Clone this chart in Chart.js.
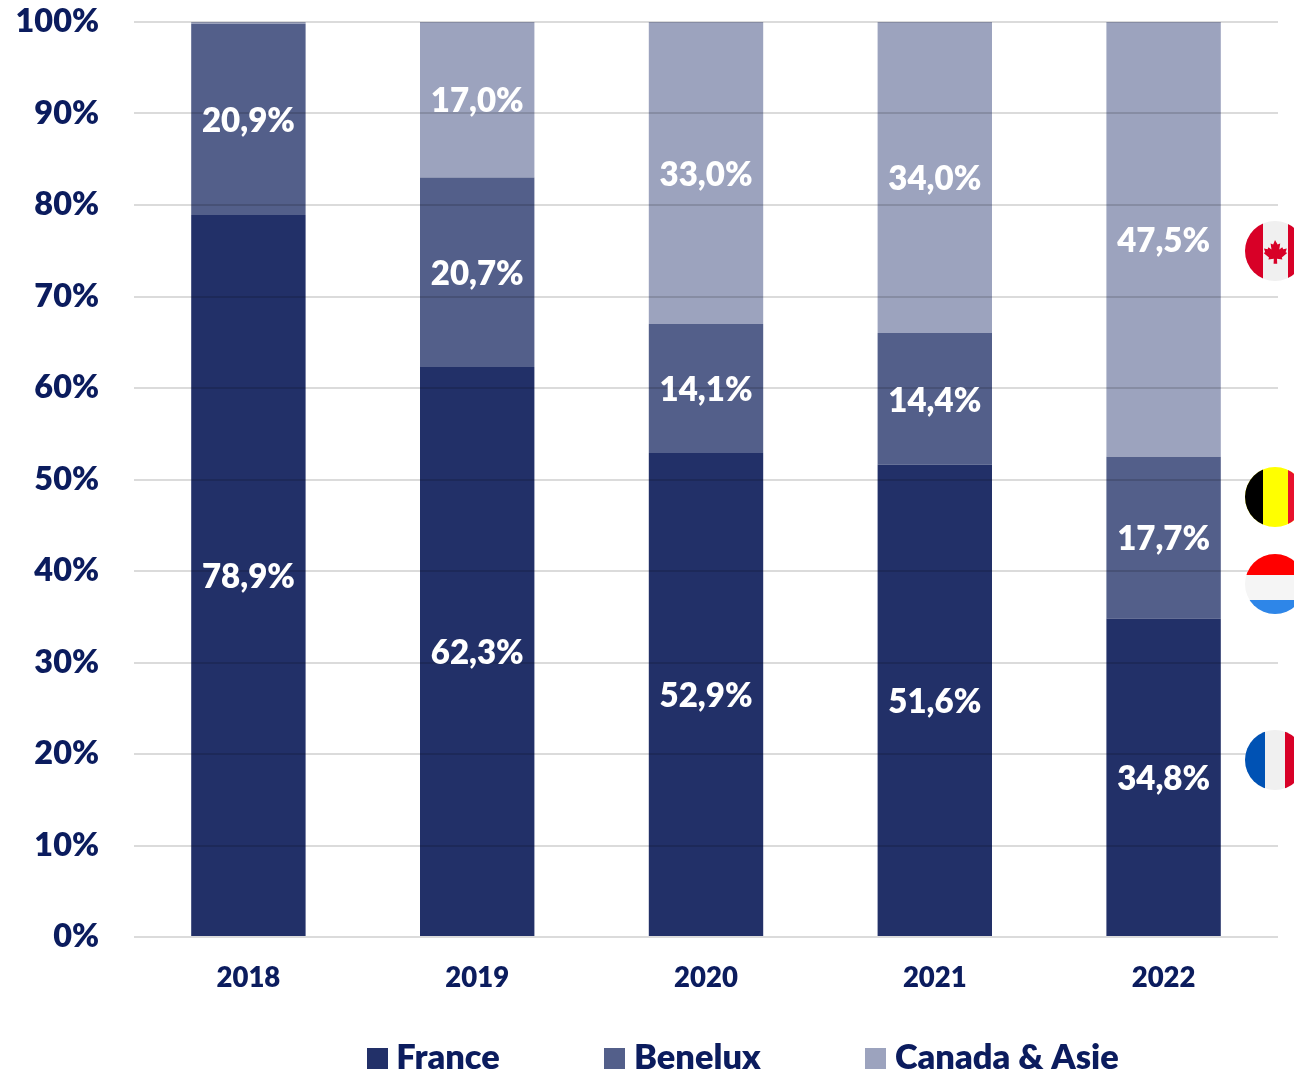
<!DOCTYPE html>
<html lang="fr"><head><meta charset="utf-8">
<style>
html,body{margin:0;padding:0;background:#fff;overflow:hidden;width:1294px;height:1073px}
#w{position:relative;width:1294px;height:1073px}
canvas{position:absolute;left:0;top:0}
svg.f{position:absolute;width:60px;height:60px;left:1245px}
</style>
<script src="https://cdn.jsdelivr.net/npm/chart.js@4"></script>
</head><body><div id="w"><canvas id="c" width="1294" height="1073"></canvas>
<svg class="f" style="top:221px" viewBox="0 0 60 60"><defs><clipPath id="k"><circle cx="30" cy="30" r="30"/></clipPath></defs><g clip-path="url(#k)"><rect width="60" height="60" fill="#f0f0f0"/><rect width="18" height="60" fill="#d80027"/><rect x="43" width="17" height="60" fill="#d80027"/><path d="M30 19l2.6 4.6 2.6-1.2-.9 6 3-2.2.9 2 3.6-.6-1.2 3.6 1.6.9-5.4 4.4.6 2-5.4-.8.2 5h-3.6l.2-5-5.4.8.6-2-5.4-4.4 1.6-.9-1.2-3.6 3.6.6.9-2 3 2.2-.9-6 2.6 1.2z" fill="#d80027"/></g></svg>
<svg class="f" style="top:467px" viewBox="0 0 60 60"><g clip-path="url(#k)"><rect width="60" height="60" fill="#ffff00"/><rect width="18" height="60" fill="#000"/><rect x="43" width="17" height="60" fill="#e8112d"/></g></svg>
<svg class="f" style="top:554px" viewBox="0 0 60 60"><g clip-path="url(#k)"><rect width="60" height="60" fill="#f5f5f5"/><rect width="60" height="21" fill="#ff0000"/><rect y="46" width="60" height="14" fill="#2e86e8"/></g></svg>
<svg class="f" style="top:730px" viewBox="0 0 60 60"><g clip-path="url(#k)"><rect width="60" height="60" fill="#f0f0f0"/><rect width="20" height="60" fill="#0052b4"/><rect x="40" width="20" height="60" fill="#d80027"/></g></svg>
</div>
<script>
const years = ['2018','2019','2020','2021','2022'];
const seriesNames = ['France','Benelux','Canada & Asie'];
const france = [78.9,62.3,52.9,51.6,34.8];
const benelux = [20.9,20.7,14.1,14.4,17.7];
const canadaAsie = [0.2,17.0,33.0,34.0,47.5];
const colors = ['#223068','#535f8a','#9ca3be'];
const navy = '#0b1c5e', fontFamily = 'Lato, Carlito, Calibri, sans-serif', W = '800';

function swatch(color){
  const s = document.createElement('canvas');
  s.width = 21; s.height = 21;
  const g = s.getContext('2d');
  g.fillStyle = color; g.fillRect(0,0,21,21);
  return s;
}
const swatches = colors.map(swatch);

const segmentLabels = {
  id:'segmentLabels',
  afterDraw(chart){
    const ctx = chart.ctx;
    ctx.save();
    ctx.font = W+' 33px '+fontFamily;
    ctx.fillStyle = '#fff';
    ctx.textAlign = 'center';
    ctx.textBaseline = 'middle';
    chart.data.datasets.forEach((ds,i)=>{
      chart.getDatasetMeta(i).data.forEach((bar,j)=>{
        if (ds.data[j] < 3) return;
        const p = bar.getProps(['x','y','base'],true);
        ctx.fillText(ds.data[j].toFixed(1).replace('.',',')+'%', p.x, (p.y+p.base)/2 + 2);
      });
    });
    ctx.restore();
  }
};
const legendPlace = {
  id:'legendPlace',
  beforeLayout(chart){
    const l = chart.legend;
    if (!l._wrapped){
      const fit = l.fit;
      l.fit = function(){ fit.call(this); this.height = 46; };
      l._wrapped = true;
    }
  },
  afterLayout(chart){
    const l = chart.legend;
    l.top = 928; l.bottom = 1073;
    l.left += 108; l.right += 108;
  }
};

new Chart(document.getElementById('c'),{
  type:'bar',
  data:{labels:years,datasets:[
    {label:seriesNames[0],data:france,backgroundColor:colors[0]},
    {label:seriesNames[1],data:benelux,backgroundColor:colors[1]},
    {label:seriesNames[2],data:canadaAsie,backgroundColor:colors[2]}
  ]},
  options:{
    responsive:false,animation:false,
    layout:{padding:{top:22,right:16,left:0,bottom:0}},
    datasets:{bar:{barPercentage:0.5,categoryPercentage:1}},
    plugins:{
      tooltip:{enabled:false},
      legend:{position:'bottom',
        labels:{usePointStyle:true,boxWidth:4,padding:113,color:navy,
          font:{family:fontFamily,weight:W,size:34.4},
          generateLabels(chart){
            return Chart.defaults.plugins.legend.labels.generateLabels(chart)
              .map((it,i)=>Object.assign(it,{pointStyle:swatches[i]}));
          }}}
    },
    scales:{
      x:{stacked:true,
        afterFit(s){s.height=90;s.paddingLeft=0;s.paddingRight=0;},
        grid:{display:false},border:{display:false},
        ticks:{color:navy,padding:17,maxRotation:0,font:{family:fontFamily,weight:W,size:27.5}}},
      y:{stacked:true,min:0,max:100,
        afterFit(s){s.width=134;s.paddingTop=0;s.paddingBottom=0;},
        grid:{z:1,color:'rgba(0,0,0,0.14)',lineWidth:2,drawTicks:false},border:{display:false},
        ticks:{stepSize:10,padding:35,color:navy,callback:v=>v+'%',font:{family:fontFamily,weight:W,size:32.4}}}
    }
  },
  plugins:[segmentLabels,legendPlace]
});
</script></body></html>
